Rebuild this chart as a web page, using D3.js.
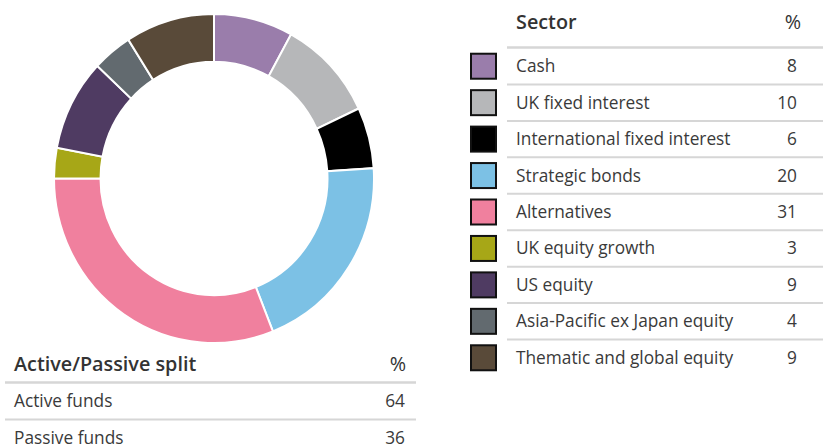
<!DOCTYPE html>
<html lang="en">
<head>
    <meta charset="UTF-8">
    <title>Sector split</title>
    <script src="https://d3js.org/d3.v7.min.js"></script>
    <style>
        body { margin: 0; background: #fff; }
        text { font-family: "Open Sans", "Noto Sans", sans-serif; fill: #3a3a3a; }
    </style>
</head>
<body>
<svg width="823" height="448"></svg>
<script>
    const width = 823;
    const height = 448;

    // data
    const sectors = ["Cash", "UK fixed interest", "International fixed interest", "Strategic bonds",
        "Alternatives", "UK equity growth", "US equity", "Asia-Pacific ex Japan equity", "Thematic and global equity"];
    const sectorValues = [8, 10, 6, 20, 31, 3, 9, 4, 9];
    const sectorColors = ["#9a7dab", "#b6b7b9", "#000000", "#7cc1e5", "#f0809e", "#a7a717", "#4f3b62", "#626a6f", "#594a39"];
    const splitLabels = ["Active funds", "Passive funds"];
    const splitValues = [64, 36];

    const svg = d3.select('svg')
        .attr('width', width)
        .attr('height', height);

    const bodySize = '17.3px', headSize = '19.8px';

    // donut (the original is a touch taller than wide)
    const cx = 214, cy = 178.5;
    const pie = d3.pie().sort(null).value(d => d.value);
    const arc = d3.arc().innerRadius(113.5).outerRadius(160);
    const slices = sectors.map((s, i) => ({name: s, value: sectorValues[i], color: sectorColors[i]}));

    svg.append('g')
        .attr('transform', `translate(${cx},${cy}) scale(1,1.028)`)
        .selectAll('path')
        .data(pie(slices))
        .enter().append('path')
        .attr('d', arc)
        .style('fill', d => d.data.color)
        .style('stroke', '#fff')
        .style('stroke-width', 2);

    // sector table
    const y = d3.scaleBand().domain(sectors).range([48, 376]);
    const tbl = svg.append('g');
    const left = 507, right = 823, textX = 516, valX = 797;

    tbl.append('text')
        .attr('x', textX).attr('y', 22).attr('dy', '0.35em')
        .style('font-size', headSize).style('font-weight', 600).style('fill', '#333')
        .text('Sector');
    tbl.append('text')
        .attr('x', valX + 4).attr('y', 22).attr('dy', '0.35em')
        .style('font-size', headSize).style('text-anchor', 'end').style('fill', '#333')
        .text('%');
    tbl.append('line')
        .attr('x1', left).attr('x2', right).attr('y1', 47.5).attr('y2', 47.5)
        .style('stroke', '#d6d6d6').style('stroke-width', 2.5);

    const rows = tbl.selectAll('.row')
        .data(sectors)
        .enter().append('g')
        .attr('class', 'row')
        .attr('transform', d => `translate(0,${y(d)})`);

    rows.filter((d, i) => i > 0).append('line')
        .attr('x1', left).attr('x2', right)
        .style('stroke', '#d6d6d6').style('stroke-width', 2);

    rows.append('rect')
        .attr('x', 471).attr('y', y.bandwidth() / 2 - 12.5)
        .attr('width', 25).attr('height', 25)
        .style('fill', (d, i) => sectorColors[i])
        .style('stroke', '#111').style('stroke-width', 2);

    rows.append('text')
        .attr('x', textX).attr('y', y.bandwidth() / 2).attr('dy', '0.35em')
        .style('font-size', bodySize)
        .text(d => d);

    rows.append('text')
        .attr('x', valX).attr('y', y.bandwidth() / 2).attr('dy', '0.35em')
        .style('font-size', bodySize).style('text-anchor', 'end')
        .text((d, i) => sectorValues[i]);

    // active / passive table
    const y2 = d3.scaleBand().domain(splitLabels).range([383, 456]);
    const t2 = svg.append('g');

    t2.append('text')
        .attr('x', 14).attr('y', 364).attr('dy', '0.35em')
        .style('font-size', headSize).style('font-weight', 600).style('fill', '#333')
        .text('Active/Passive split');
    t2.append('text')
        .attr('x', 406).attr('y', 364).attr('dy', '0.35em')
        .style('font-size', headSize).style('text-anchor', 'end').style('fill', '#333')
        .text('%');
    t2.append('line')
        .attr('x1', 5).attr('x2', 416).attr('y1', 382.5).attr('y2', 382.5)
        .style('stroke', '#d6d6d6').style('stroke-width', 2.5);

    const rows2 = t2.selectAll('.row2')
        .data(splitLabels)
        .enter().append('g')
        .attr('class', 'row2')
        .attr('transform', d => `translate(0,${y2(d)})`);

    rows2.filter((d, i) => i > 0).append('line')
        .attr('x1', 5).attr('x2', 416)
        .style('stroke', '#d6d6d6').style('stroke-width', 2);

    rows2.append('text')
        .attr('x', 14).attr('y', y2.bandwidth() / 2).attr('dy', '0.35em')
        .style('font-size', bodySize)
        .text(d => d);

    rows2.append('text')
        .attr('x', 405).attr('y', y2.bandwidth() / 2).attr('dy', '0.35em')
        .style('font-size', bodySize).style('text-anchor', 'end')
        .text((d, i) => splitValues[i]);
</script>
</body>
</html>
